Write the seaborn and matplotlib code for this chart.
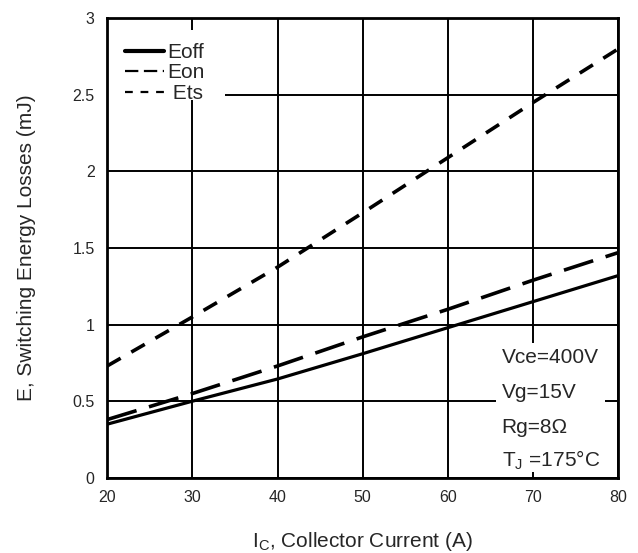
import matplotlib
matplotlib.use("Agg")
import matplotlib.pyplot as plt
from matplotlib.lines import Line2D
from matplotlib.patches import Rectangle
import seaborn as sns
import pandas as pd

# collector current (A)
ic = [20, 30, 40, 50, 60, 70, 80]
# switching energy losses (mJ)
eoff = [0.35, 0.50, 0.645, 0.81, 0.98, 1.15, 1.32]
eon = [0.38, 0.55, 0.73, 0.92, 1.10, 1.29, 1.47]
ets = [0.73, 1.05, 1.375, 1.73, 2.09, 2.45, 2.80]

xticks = [20, 30, 40, 50, 60, 70, 80]
yticks = [0, 0.5, 1, 1.5, 2, 2.5, 3]
ytick_labels = ['0', '0.5', '1', '1.5', '2', '2.5', '3']

# test conditions printed in the lower right box
conditions = ['Vce=400V', 'Vg=15V', 'Rg=8Ω', 'T$_\\mathregular{J}$ =175°C']

df = pd.DataFrame({'Ic': ic, 'Eoff': eoff, 'Eon': eon, 'Ets': ets})

sns.set_style('white')
plt.rcParams['font.family'] = ['Liberation Sans', 'DejaVu Sans']

fig = plt.figure(figsize=(6.38, 5.53), dpi=100)
ax = fig.add_axes([0.168, 0.136, 0.801, 0.831])

sns.lineplot(data=df, x='Ic', y='Eoff', ax=ax, color='black', lw=2.3)
sns.lineplot(data=df, x='Ic', y='Eon', ax=ax, color='black', lw=2.6,
             linestyle=(0, (8.5, 3.6)))
sns.lineplot(data=df, x='Ic', y='Ets', ax=ax, color='black', lw=2.6,
             linestyle=(0, (4.3, 3.4)))

ax.set_xlim(20, 80)
ax.set_ylim(0, 3)
ax.set_xticks(xticks)
ax.set_yticks(yticks)
ax.set_yticklabels(ytick_labels)
ax.grid(True, color='black', lw=1.4)
ax.set_axisbelow(True)
for s in ax.spines.values():
    s.set_color('black')
    s.set_linewidth(2)
ax.tick_params(axis='both', labelsize=11.5, direction='out', length=3, width=1.4,
               pad=6, color='black')

ax.set_xlabel('I$_\\mathregular{C}$, Collector Current (A)', fontsize=15, labelpad=18)
ax.set_ylabel('E, Switching Energy Losses (mJ)', fontsize=15, labelpad=26)

# white boxes behind legend and test conditions (they hide the grid there)
ax.add_patch(Rectangle((0.0, 0.822), 0.231, 0.152, transform=ax.transAxes,
                       facecolor='white', edgecolor='none', zorder=1.5))
ax.add_patch(Rectangle((0.76, 0.013), 0.215, 0.28, transform=ax.transAxes,
                       facecolor='white', edgecolor='none', zorder=1.5))

handles = [
    Line2D([], [], color='black', lw=3),
    Line2D([], [], color='black', lw=1.6, linestyle=(0, (6, 2.5))),
    Line2D([], [], color='black', lw=1.6, linestyle=(0, (3.5, 3.5))),
]
leg = ax.legend(handles, ['Eoff', 'Eon', ' Ets'], loc='upper left',
                bbox_to_anchor=(0.022, 0.96), frameon=False,
                fontsize=15, handlelength=1.9, handletextpad=0.15,
                labelspacing=0.07, borderpad=0.3, borderaxespad=0)

for txt, yy in zip(conditions, [0.261, 0.185, 0.109, 0.039]):
    ax.text(0.772, yy, txt, transform=ax.transAxes, fontsize=15,
            va='center', ha='left', zorder=3)

fig.savefig('out.png', dpi=100)
